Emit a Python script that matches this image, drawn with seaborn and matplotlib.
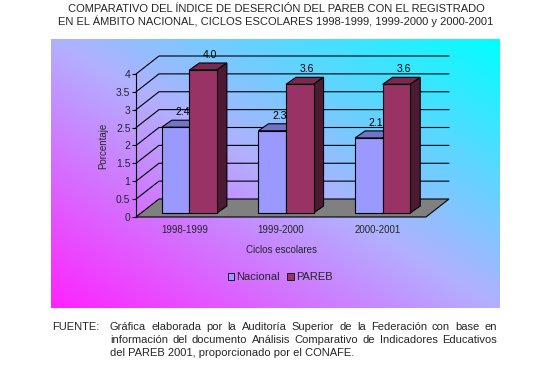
import numpy as np
import pandas as pd
import matplotlib
matplotlib.use("Agg")
import matplotlib.pyplot as plt
import seaborn as sns
from matplotlib.transforms import ScaledTranslation, IdentityTransform
from matplotlib.patches import Polygon, Patch, Rectangle

# ---------------- data ----------------
ciclos = ["1998-1999", "1999-2000", "2000-2001"]
series = ["Nacional", "PAREB"]
nacional = [2.4, 2.3, 2.1]
pareb = [4.0, 3.6, 3.6]
yticks = [0, 0.5, 1, 1.5, 2, 2.5, 3, 3.5, 4]
ytick_labels = ["0", "0.5", "1", "1.5", "2", "2.5", "3", "3.5", "4"]

title_lines = ["COMPARATIVO DEL ÍNDICE DE DESERCIÓN DEL PAREB CON EL REGISTRADO",
               "EN EL ÁMBITO NACIONAL, CICLOS ESCOLARES 1998-1999, 1999-2000 y 2000-2001"]
fuente_label = "FUENTE:"
fuente_lines = ["Gráfica elaborada por la Auditoría Superior de la Federación con base en",
                "información del documento Análisis Comparativo de Indicadores Educativos",
                "del PAREB 2001, proporcionado por el CONAFE."]

df = pd.DataFrame({
    "Ciclo": ciclos * 2,
    "Serie": [series[0]] * 3 + [series[1]] * 3,
    "Valor": nacional + pareb,
})

front_col = {"Nacional": "#9999FF", "PAREB": "#993366"}
top_col = {"Nacional": "#7373C8", "PAREB": "#7A2952"}
side_col = {"Nacional": "#5C5CA0", "PAREB": "#4D1A33"}

sns.set_theme(style="white")
plt.rcParams["font.family"] = ["Liberation Sans", "DejaVu Sans"]

W, H = 552, 389
fig = plt.figure(figsize=(W / 100, H / 100), dpi=100)
fig.patch.set_facecolor("white")

# ---------------- gradient panel ----------------
pax = fig.add_axes([51 / W, 1 - 308 / H, (500 - 51) / W, (308 - 39) / H])
n = 256
u = np.linspace(0, 1, n)
U, V = np.meshgrid(u, u)  # V: 0 bottom -> 1 top
t = (U + V) / 2
c0 = np.array([255, 34, 255]) / 255
c1 = np.array([178, 176, 255]) / 255
c2 = np.array([0, 255, 255]) / 255
lo = t <= 0.5
img = np.where(lo[..., None], c0 + (c1 - c0) * (t / 0.5)[..., None],
               c1 + (c2 - c1) * ((t - 0.5) / 0.5)[..., None])
pax.imshow(img, origin="lower", extent=[0, 1, 0, 1], aspect="auto", interpolation="bilinear")
pax.set_axis_off()

# ---------------- main axes (front plane) ----------------
ax = fig.add_axes([136 / W, 1 - 217 / H, 290 / W, 143 / H])
ax.set_facecolor("none")

sns.barplot(data=df, x="Ciclo", y="Valor", hue="Serie", order=ciclos, hue_order=series,
            palette=[front_col[s_] for s_ in series], width=0.57, saturation=1,
            edgecolor="black", linewidth=0.8, legend=False, ax=ax)
bars = sorted([p for p in ax.patches if isinstance(p, Rectangle)], key=lambda p: p.get_x())
bar_series = []
for b in bars:
    bar_series.append("Nacional" if b.get_facecolor()[2] > 0.7 else "PAREB")

ax.set_xlim(-0.5, 2.5)
ax.set_ylim(0, 4)

DX, DY = 23, 18      # back wall depth (pixels)
BX, BY = 5, 4        # bar front-face depth
SX, SY = 10, 7       # bar thickness
LW = 0.8


def P(x, y, dx=0, dy=0):
    px, py = ax.transData.transform((x, y))
    return (px + dx, py + dy)


# floor
floor = Polygon([P(-0.5, 0), P(2.5, 0), P(2.5, 0, DX, DY), P(-0.5, 0, DX, DY)],
                closed=True, facecolor="#808080", edgecolor="black", linewidth=LW,
                transform=IdentityTransform(), clip_on=False, zorder=1)
ax.add_patch(floor)

# gridlines on back wall and left side
for yv in yticks[1:]:
    x1, y1 = P(-0.5, yv, DX, DY)
    x2, y2 = P(2.5, yv, DX, DY)
    x0, y0 = P(-0.5, yv)
    ax.plot([x0, x1, x2], [y0, y1, y2], color="black", lw=LW,
            transform=IdentityTransform(), clip_on=False, zorder=1)

# bars: shift to their depth and add top/side faces
for i, (b, ser) in enumerate(zip(bars, bar_series)):
    x0 = b.get_x()
    x1 = x0 + b.get_width()
    h = b.get_height()
    z = 3 + i * 0.1
    b.set_transform(ax.transData + ScaledTranslation(BX / 100, BY / 100, fig.dpi_scale_trans))
    b.set_clip_on(False)
    b.set_zorder(z + 0.02)
    top = Polygon([P(x0, h, BX, BY), P(x1, h, BX, BY), P(x1, h, BX + SX, BY + SY), P(x0, h, BX + SX, BY + SY)],
                  closed=True, facecolor=top_col[ser], edgecolor="black", linewidth=LW,
                  transform=IdentityTransform(), clip_on=False, zorder=z)
    side = Polygon([P(x1, 0, BX, BY), P(x1, h, BX, BY), P(x1, h, BX + SX, BY + SY), P(x1, 0, BX + SX, BY + SY)],
                   closed=True, facecolor=side_col[ser], edgecolor="black", linewidth=LW,
                   transform=IdentityTransform(), clip_on=False, zorder=z)
    ax.add_patch(top)
    ax.add_patch(side)
    ax.text((x0 + x1) / 2, h, f"{h:.1f}", ha="center", va="bottom", fontsize=7.5, color="black",
            transform=ax.transData + ScaledTranslation((BX + 7) / 100, (BY + SY + 3) / 100, fig.dpi_scale_trans),
            zorder=10)

# axes styling
for sp in ["top", "right", "bottom"]:
    ax.spines[sp].set_visible(False)
ax.spines["left"].set_color("black")
ax.spines["left"].set_linewidth(LW)
ax.spines["left"].set_zorder(2)
ax.set_yticks(yticks)
ax.set_yticklabels(ytick_labels)
ax.tick_params(axis="y", direction="out", length=3, width=LW, color="black", labelsize=7.5, pad=1,
               left=True)
ax.set_xticks(range(len(ciclos)))
ax.set_xticklabels(ciclos)
ax.tick_params(axis="x", length=0, labelsize=7, pad=6)
ax.set_xlabel("Ciclos escolares", fontsize=7, labelpad=7)
ax.set_ylabel("Porcentaje", fontsize=7, labelpad=4)
ax.yaxis.set_label_coords((108 - 136) / 290, 0.5)
ax.grid(False)

# legend
handles = [Patch(facecolor=front_col[s_], edgecolor="black", linewidth=0.6, label=s_) for s_ in series]
fig.legend(handles=handles, loc="center", bbox_to_anchor=(280 / W, 1 - 277 / H), ncol=2, frameon=False,
           fontsize=8, handlelength=0.6, handleheight=0.6, handletextpad=0.2, columnspacing=0.6)

# title
fig.text(276 / W, 1 - 9 / H, title_lines[0], ha="center", va="center", fontsize=8)
fig.text(276 / W, 1 - 21 / H, title_lines[1], ha="center", va="center", fontsize=8)

# footer (justified lines)
FS = 8
fig.text(52 / W, 1 - 327 / H, fuente_label, ha="left", va="center", fontsize=FS)
renderer = fig.canvas.get_renderer()
xl, xr = 110, 497
line_y = [327, 340, 353]
for k, line in enumerate(fuente_lines):
    yv = 1 - line_y[k] / H
    if k == len(fuente_lines) - 1:
        fig.text(xl / W, yv, line, ha="left", va="center", fontsize=FS)
        continue
    words = line.split(" ")
    tws = []
    for w in words:
        tt = fig.text(0, 0, w, fontsize=FS)
        tws.append(tt.get_window_extent(renderer).width)
        tt.remove()
    gap = (xr - xl - sum(tws)) / (len(words) - 1)
    xcur = xl
    for w, tw in zip(words, tws):
        fig.text(xcur / W, yv, w, ha="left", va="center", fontsize=FS)
        xcur += tw + gap

fig.savefig("out.png", dpi=100, facecolor="white")
